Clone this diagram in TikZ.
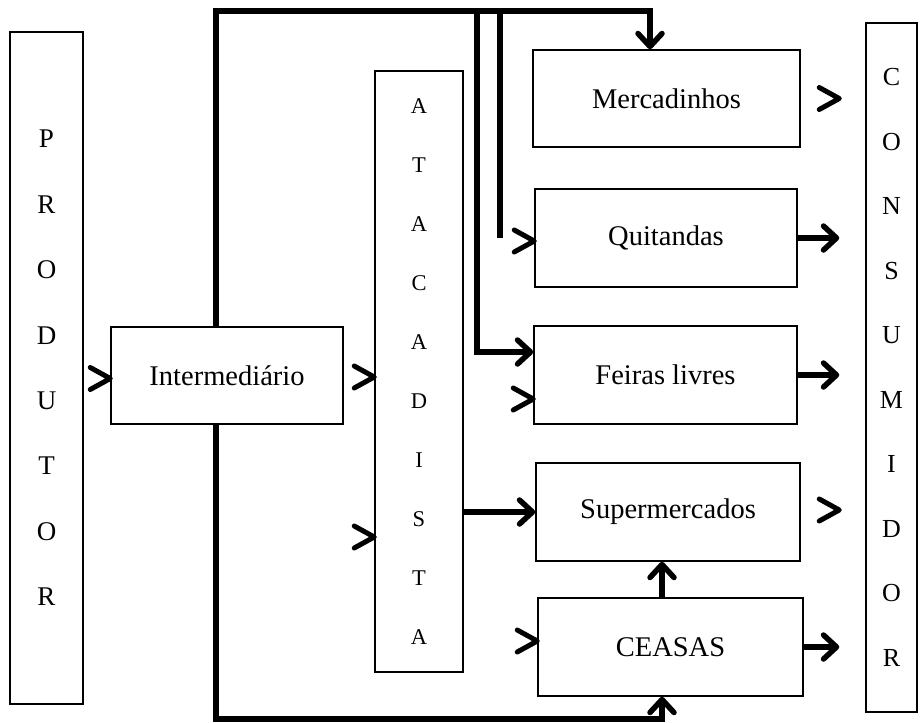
\documentclass[tikz,border=0pt]{standalone}
\usepackage{fontspec}
\setmainfont{Liberation Serif}
\usepackage{tikz}
\usetikzlibrary{arrows.meta,positioning,calc}
\tikzset{
  box/.style   = {rectangle, draw, line width=1.5pt, fill=white, align=center,
                  inner sep=0pt, font=\fontsize{28.5}{34}\selectfont},
  shop/.style  = {box, minimum width=265pt, minimum height=98pt},
  tall/.style  = {box, minimum width=73pt},
  trunk/.style = {line width=5.5pt},
  flow/.style  = {trunk, -{Straight Barb[length=13pt,width=24pt,round]}},
  head/.style  = {line width=5pt, line cap=round, line join=round},
}
% lone arrow head, tip on the given point
\newcommand{\chev}[1]{\draw[head] #1 ++(-20,-11) -- #1 -- ++(-20,11);}

\begin{document}
\begin{tikzpicture}[x=1pt,y=-1pt]
\useasboundingbox (0,0) rectangle (924,723);

% --- trunk corners
\coordinate (tl) at (216,11);
\coordinate (bl) at (216,719);
\coordinate (b1) at (477,11);
\coordinate (b2) at (500,11);

% --- columns
\node[tall, minimum height=672pt, font=\fontsize{27}{65.4}\selectfont] (prod) at (46.5,368)
  {P\\R\\O\\D\\U\\T\\O\\R};
\node[box, minimum width=232pt, minimum height=97pt] (inter) at (227,375.5) {Intermedi\'ario};
\node[tall, minimum width=88pt, minimum height=601pt, font=\fontsize{22.5}{59}\selectfont] (atac) at (419,371.5)
  {A\\T\\A\\C\\A\\D\\I\\S\\T\\A};
\node[tall, minimum width=51pt, minimum height=689pt, font=\fontsize{26}{64.5}\selectfont] (cons) at (891.5,367.5)
  {C\\O\\N\\S\\U\\M\\I\\D\\O\\R};

% --- retail
\node[shop, minimum width=267pt, minimum height=97pt] (merc) at (666.5,98.5) {Mercadinhos};
\node[shop, minimum width=262pt] (quit) at (666,238) {Quitandas};
\node[shop, minimum width=263pt] (feiras) at (665.5,375) {Feiras livres};
\node[shop, minimum width=264pt] (super) at (668,512) {Supermercados};
\node[shop] (ceasas) at (670.5,647) {CEASAS};

% --- free ends
\coordinate (mtip) at ($(merc.east -| cons.west)+(-26,0)$);
\coordinate (stip) at ($(super.east -| cons.west)+(-26,-2)$);
\coordinate (mdown) at ($(merc.north)+(-16.5,0)$);
\coordinate (cup) at ($(ceasas.north)+(-8.5,0)$);
\coordinate (cdown) at ($(ceasas.south)+(-8.5,0)$);

% --- lines
\draw[flow] (inter.north -| tl) -- (tl) -| (mdown);
\draw[flow] (inter.south -| bl) -- (bl) -| (cdown);
\draw[flow] (b1) |- ($(feiras.west)+(0,-23)$);
\draw[trunk] (b2) -- (b2 |- quit.west);
\draw[flow] (atac.east |- super.west) -- (super.west);
\draw[flow] (cup) -- (cup |- super.south);
\draw[flow, shorten >=26pt] (quit.east) -- (quit.east -| cons.west);
\draw[flow, shorten >=26pt] (feiras.east) -- (feiras.east -| cons.west);
\draw[flow, shorten >=26pt] (ceasas.east) -- (ceasas.east -| cons.west);

% --- lone heads
\chev{($(inter.west)+(0,3)$)}
\chev{($(atac.west)+(0,5.5)$)}
\chev{($(atac.west)+(0,165.5)$)}
\chev{($(quit.west)+(0,3)$)}
\chev{($(feiras.west)+(0,24)$)}
\chev{($(ceasas.west)+(0,-6)$)}
\chev{(mtip)}
\chev{(stip)}

\end{tikzpicture}
\end{document}
